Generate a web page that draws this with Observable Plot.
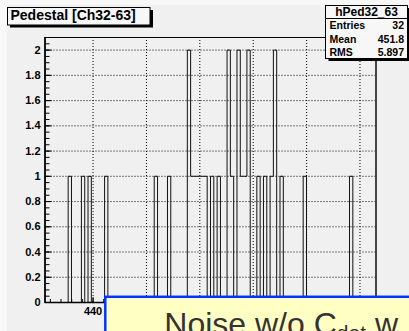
<!DOCTYPE html>
<html>
<head>
<meta charset="utf-8">
<script src="https://cdn.jsdelivr.net/npm/d3@7"></script>
<script src="https://cdn.jsdelivr.net/npm/@observablehq/plot@0.6"></script>
<style>
  html, body { margin: 0; padding: 0; background: #f8f8f8; }
  #canvas { position: relative; width: 409px; height: 331px; overflow: hidden; background: #f8f8f8; }
  #pad { position: absolute; left: 7px; top: 5px; right: 0; bottom: 0; background: #f0f0f0; }
  #canvas svg { position: absolute; left: 0; top: 0; }
</style>
</head>
<body>
<div id="canvas"><div id="pad"></div></div>
<script>
// Pedestal histogram, channels 32-63: 100 bins between 435.5 and 466.5 ADC counts
const histName = "hPed32_63";
const histTitle = "Pedestal [Ch32-63]";
const histLow = 435.5;
const histHigh = 466.5;
const nBins = 100;

// non-empty bins (bin index) and their contents
const filledBins = [7, 11, 13, 18, 33, 37, 43, 44, 45, 46, 47, 48, 50, 52, 55, 56, 58, 59, 60, 61, 64, 66, 68, 69, 71, 78, 92];
const binCounts  = [1, 1, 1, 1, 1, 1, 2, 1, 1, 1, 1, 1, 1, 1, 2, 1, 2, 1, 1, 2, 1, 1, 1, 2, 1, 1, 1];

// statistics of the unbinned pedestal values
const statMean = 451.8;
const statRMS = 5.897;

// axes
const yMax = 2.1;
const yMajorTicks = [0, 0.2, 0.4, 0.6, 0.8, 1, 1.2, 1.4, 1.6, 1.8, 2];
const yTickLabels = ["0", "0.2", "0.4", "0.6", "0.8", "1", "1.2", "1.4", "1.6", "1.8", "2"];
const xMajorTicks = [440, 445, 450, 455, 460, 465];
// only the first x label stays clear of the note box laid over the pad
const xLabelTicks = [440];
const xTickLabels = ["440"];
const yMinorTicks = d3.range(0, 2.1, 0.05);
const xMinorTicks = d3.range(436, 467, 1);

// slide annotation overlapping the pad
const noteMain = "Noise w/o C";
const noteSub = "det";
const noteTail = " w";

// step outline of the histogram, ROOT style (no verticals between equal bins)
const binWidth = (histHigh - histLow) / nBins;
const counts = new Array(nBins).fill(0);
filledBins.forEach((b, i) => { counts[b] = binCounts[i]; });
const outline = counts.map((c, k) => ({x: histLow + k * binWidth, y: c}));
outline.push({x: histHigh, y: 0});

const font = "'Liberation Sans', Arial, Helvetica, sans-serif";

// inward tick marks only (no labels)
const tickOnly = {fill: "none", label: null, stroke: "#000"};

const chart = Plot.plot({
  width: 409,
  height: 331,
  marginLeft: 44.5,
  marginRight: 33.5,
  marginTop: 37,
  marginBottom: 29,
  style: {background: "transparent", fontFamily: font, color: "#000", overflow: "visible"},
  x: {domain: [histLow, histHigh], axis: null},
  y: {domain: [0, yMax], axis: null},
  marks: [
    Plot.gridX({ticks: xMajorTicks, stroke: "#000", strokeOpacity: 1, strokeDasharray: "1,2"}),
    Plot.gridY({ticks: yMajorTicks.filter(d => d > 0), stroke: "#000", strokeOpacity: 1, strokeDasharray: "1,2"}),
    Plot.line(outline, {x: "x", y: "y", curve: "step-after", stroke: "#111", strokeWidth: 1}),
    Plot.frame({stroke: "#000"}),
    Plot.ruleX([histHigh], {stroke: "#444", strokeWidth: 2}),
    Plot.ruleX([histLow], {stroke: "#000", strokeWidth: 1.6}),
    Plot.ruleY([0], {stroke: "#000", strokeWidth: 1.6}),
    Plot.axisY({...tickOnly, ticks: yMajorTicks, anchor: "right", frameAnchor: "left", tickSize: 6}),
    Plot.axisY({...tickOnly, ticks: yMinorTicks, anchor: "right", frameAnchor: "left", tickSize: 4}),
    Plot.axisX({...tickOnly, ticks: xMajorTicks, anchor: "top", frameAnchor: "bottom", tickSize: 6}),
    Plot.axisX({...tickOnly, ticks: xMinorTicks, anchor: "top", frameAnchor: "bottom", tickSize: 4}),
    Plot.axisY({
      ticks: yMajorTicks, anchor: "left", tickSize: 0, tickPadding: 4.5, label: null,
      tickFormat: d => yTickLabels[yMajorTicks.indexOf(d)],
      fontSize: 11, fontWeight: "bold", fill: "#000"
    }),
    Plot.axisX({
      ticks: xLabelTicks, anchor: "bottom", tickSize: 0, tickPadding: 4.5, label: null,
      tickFormat: d => xTickLabels[xLabelTicks.indexOf(d)],
      fontSize: 11, fontWeight: "bold", fill: "#000"
    })
  ]
});
document.getElementById("canvas").appendChild(chart);

// title and statistics boxes, plus the overlapping note
const deco = d3.select("#canvas").append("svg")
  .attr("width", 409).attr("height", 331)
  .style("font-family", font);

// title box with drop shadow
deco.append("rect").attr("x", 10).attr("y", 10).attr("width", 143).attr("height", 17.5).attr("fill", "#000");
deco.append("rect").attr("x", 7.5).attr("y", 7.5).attr("width", 142.5).attr("height", 17.5)
  .attr("fill", "#f7f7f7").attr("stroke", "#000");
deco.append("text").attr("x", 10.5).attr("y", 20).attr("font-size", 14).attr("font-weight", "bold")
  .text(histTitle);

// statistics box
deco.append("rect").attr("x", 328.5).attr("y", 8).attr("width", 90).attr("height", 53).attr("fill", "#000");
deco.append("rect").attr("x", 325.5).attr("y", 5.5).attr("width", 82).attr("height", 53)
  .attr("fill", "#f7f7f7").attr("stroke", "#000");
deco.append("line").attr("x1", 325.5).attr("x2", 407.5).attr("y1", 18.5).attr("y2", 18.5).attr("stroke", "#000");
deco.append("text").attr("x", 366.5).attr("y", 16).attr("text-anchor", "middle")
  .attr("font-size", 12).attr("font-weight", "bold").text(histName);
const statRows = [
  ["Entries", String(d3.sum(binCounts))],
  ["Mean", statMean.toFixed(1)],
  ["RMS", statRMS.toFixed(3)]
];
statRows.forEach(([label, value], i) => {
  const y = 29 + i * 13.7;
  deco.append("text").attr("x", 329.5).attr("y", y).attr("font-size", 10.5).attr("font-weight", "bold").text(label);
  deco.append("text").attr("x", 404).attr("y", y).attr("text-anchor", "end")
    .attr("font-size", 10.5).attr("font-weight", "bold").text(value);
});

// note box
deco.append("rect").attr("x", 105.3).attr("y", 296.8).attr("width", 330).attr("height", 80)
  .attr("fill", "#ffffc4").attr("stroke", "#0035ff").attr("stroke-width", 2.5);
const note = deco.append("text").attr("x", 164.3).attr("y", 334.5).attr("font-size", 32)
  .attr("fill", "#333").style("white-space", "pre");
note.append("tspan").text(noteMain);
note.append("tspan").attr("font-size", 21).attr("dy", 5.5).text(noteSub);
note.append("tspan").attr("font-size", 32).attr("dy", -5.5).text(noteTail);
</script>
</body>
</html>
